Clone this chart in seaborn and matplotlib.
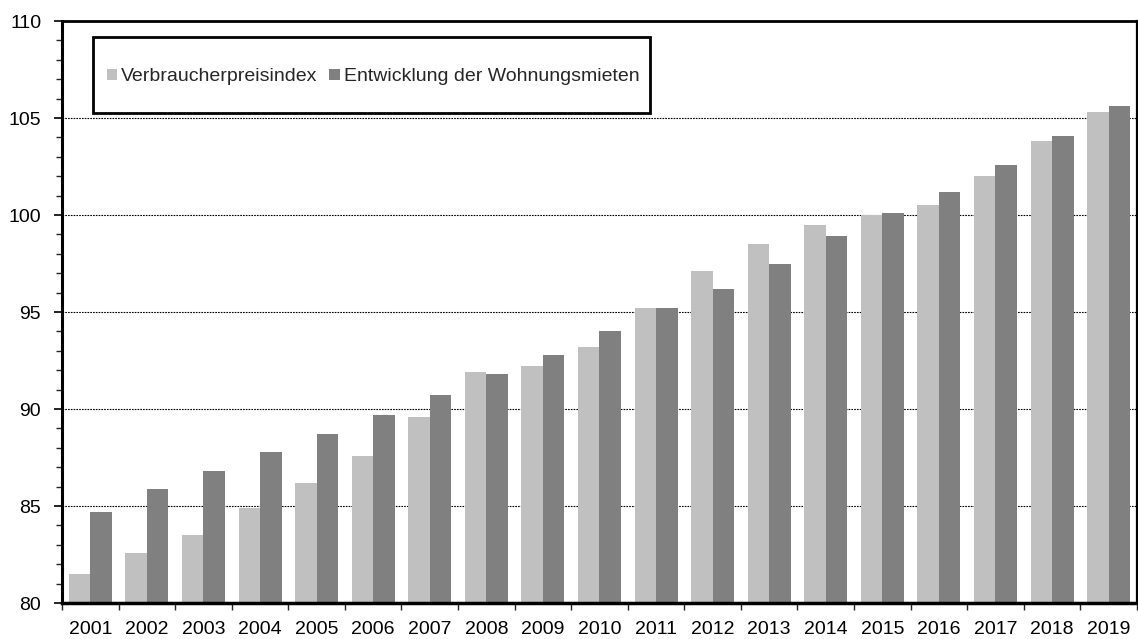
import numpy as np
import pandas as pd
import matplotlib
matplotlib.use("Agg")
import matplotlib.pyplot as plt
from matplotlib.patches import Rectangle
from matplotlib.ticker import MultipleLocator, FixedLocator
import seaborn as sns

years = [str(y) for y in range(2001, 2020)]
vpi = [81.5, 82.6, 83.5, 84.9, 86.2, 87.6, 89.6, 91.9, 92.2, 93.2,
       95.2, 97.1, 98.5, 99.5, 100.0, 100.5, 102.0, 103.8, 105.3]
mieten = [84.7, 85.9, 86.8, 87.8, 88.7, 89.7, 90.7, 91.8, 92.8, 94.0,
          95.2, 96.2, 97.5, 98.9, 100.1, 101.2, 102.6, 104.1, 105.6]
series_names = ["Verbraucherpreisindex", "Entwicklung der Wohnungsmieten"]
colors = ["#c0c0c0", "#808080"]

df = pd.DataFrame({"Jahr": years, series_names[0]: vpi, series_names[1]: mieten})
df = df.melt(id_vars="Jahr", var_name="Reihe", value_name="Wert")

sns.set_style("white")
plt.rcParams["font.family"] = ["Liberation Sans", "DejaVu Sans"]

fig = plt.figure(figsize=(11.38, 6.39), dpi=100)
ax = fig.add_axes([0.0545, 0.0563, 0.9445, 0.9107])

sns.barplot(data=df, x="Jahr", y="Wert", hue="Reihe", hue_order=series_names,
            palette=colors, width=0.76, gap=0, saturation=1, ax=ax,
            linewidth=0, legend=False)

ax.set_ylim(80, 110)
ax.set_xlim(-0.5, len(years) - 0.5)
ax.yaxis.set_major_locator(MultipleLocator(5))
ax.yaxis.set_minor_locator(MultipleLocator(1))
ax.xaxis.set_minor_locator(FixedLocator(np.arange(-0.5, len(years), 1.0)))

ax.set_axisbelow(True)
ax.yaxis.grid(True, which="major", linestyle=(0, (1.5, 1)), color="black", lw=0.8)
ax.xaxis.grid(False)

ax.tick_params(axis="y", which="major", direction="out", length=6, width=1.2,
               labelsize=14, pad=9, left=True, colors="black")
ax.tick_params(axis="y", which="minor", direction="out", length=4, width=1.0, left=True)
ax.tick_params(axis="x", which="major", length=0, labelsize=14, pad=13, colors="black")
ax.tick_params(axis="x", which="minor", direction="out", length=5, width=1.0, bottom=True)

for side, lw in [("left", 2.2), ("bottom", 2.5), ("top", 2.0), ("right", 1.6)]:
    ax.spines[side].set_visible(True)
    ax.spines[side].set_color("black")
    ax.spines[side].set_linewidth(lw)

ax.set_xlabel("")
ax.set_ylabel("")

# Legend with a separate frame box
box = Rectangle((0.029, 0.842), 0.518, 0.130, transform=ax.transAxes,
                facecolor="white", edgecolor="black", lw=2.0, zorder=5)
ax.add_patch(box)
handles = [Rectangle((0, 0), 1, 1, facecolor=c, edgecolor="none") for c in colors]
leg = ax.legend(handles, series_names, loc="center left",
                bbox_to_anchor=(0.0416, 0.904), frameon=False, fontsize=14,
                ncol=2, handlelength=0.55, handleheight=0.55,
                handletextpad=0.2, columnspacing=0.6, borderpad=0, borderaxespad=0)
leg.set_zorder(6)

fig.savefig("out.png", dpi=100)
